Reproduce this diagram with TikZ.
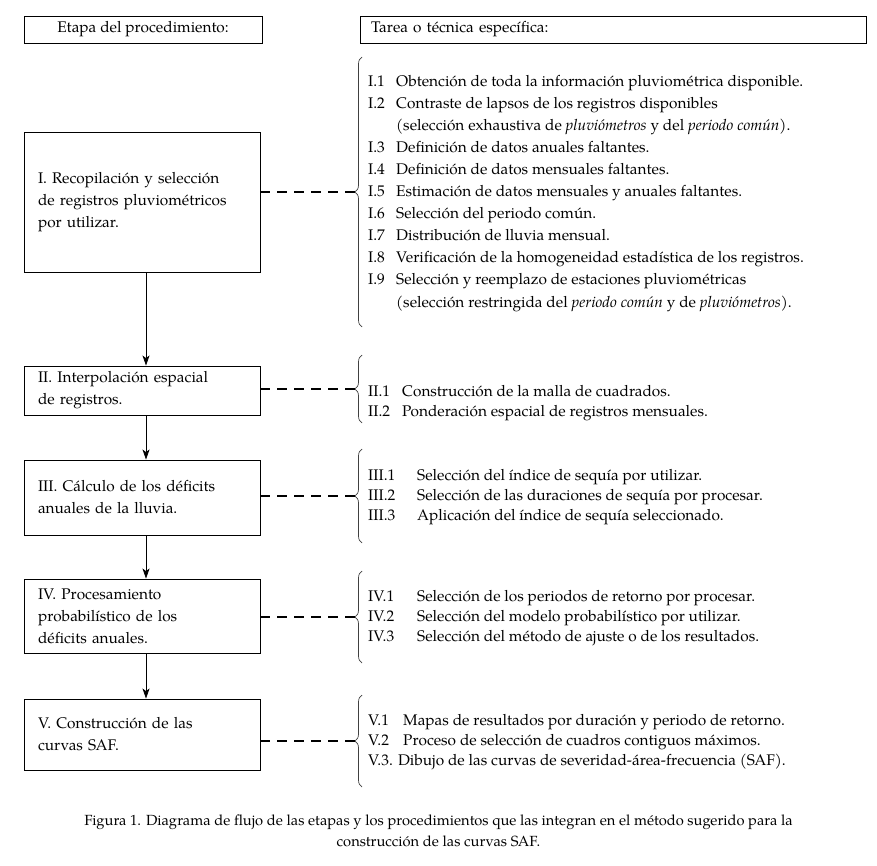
\documentclass[tikz,border=0pt]{standalone}
\usepackage{fontspec}
\setmainfont{TeX Gyre Pagella}
\usetikzlibrary{decorations.pathreplacing,arrows.meta,calc}
\newcommand\taskline[5]{%
  \node[rtext] (#1a) at (368,#2) {#3};
  \node[rtext] (#1b) at (#4,#2) {#5};}
\begin{document}
\begin{tikzpicture}[x=1pt,y=-1pt,
  font=\fontsize{15.4}{22}\selectfont,
  hbox/.style={draw, line width=0.9pt, minimum height=27pt, inner ysep=0pt},
  stage/.style={draw, line width=0.9pt, text width=208pt, align=left,
    inner xsep=14pt, inner ysep=0pt},
  rtext/.style={anchor=base west, inner sep=0pt},
  flow/.style={line width=0.8pt, -{Stealth[length=10pt,width=7pt,inset=2.5pt]}},
  link/.style={line width=2pt, dash pattern=on 10pt off 7pt},
  brc/.style={line width=0.7pt, color=black!75, decorate,
    decoration={brace, amplitude=7pt}}
]
\useasboundingbox (0,0) rectangle (877,866);

% headers
\node[hbox, minimum width=238pt] (h1) at (143,29.5) {Etapa del procedimiento:};
\node[hbox, text width=484pt, inner xsep=11pt, align=left] (h2) at (613,29.5) {Tarea o técnica específica:};

% stages
\node[stage, minimum height=140pt] (b1) at (142,202)
  {I. Recopilación y selección\\de registros pluviométricos\\por utilizar.};
\node[stage, minimum height=49pt] (b2) at (142,390.5)
  {II. Interpolación espacial\\de registros.};
\node[stage, minimum height=75pt] (b3) at (142,497.5)
  {III. Cálculo de los déficits\\anuales de la lluvia.};
\node[stage, minimum height=74pt] (b4) at (142,616)
  {IV. Procesamiento\\probabilístico de los\\déficits anuales.};
\node[stage, minimum height=71pt] (b5) at (142,734.5)
  {V. Construcción de las\\curvas SAF.};

% flow arrows
\foreach \a/\b in {b1/b2,b2/b3,b3/b4,b4/b5}
  \draw[flow] ($(\a.south)+(4,0)$) -- ($(\b.north)+(4,0)$);

% brace tips
\coordinate (t1) at (355,192);
\coordinate (t2) at (355,389);
\coordinate (t3) at (355,496);
\coordinate (t4) at (355,617);
\coordinate (t5) at (355,741);

% braces
\draw[brc] (362,327) -- (362,57);
\draw[brc] (362,423) -- (362,355);
\draw[brc] (362,543) -- (362,449);
\draw[brc] (362,663) -- (362,571);
\draw[brc] (362,787) -- (362,695);

% dashed links
\foreach \i in {1,...,5}
  \draw[link] (b\i.east |- t\i) -- (t\i);

% tasks I
\taskline{i1}{87}{I.1}{396}{Obtención de toda la información pluviométrica disponible.}
\taskline{i2}{109}{I.2}{396}{Contraste de lapsos de los registros disponibles}
\node[rtext] (i2c) at (396,131) {(selección exhaustiva de \textit{pluviómetros} y del \textit{periodo común}).};
\taskline{i3}{153}{I.3}{396}{Definición de datos anuales faltantes.}
\taskline{i4}{175}{I.4}{396}{Definición de datos mensuales faltantes.}
\taskline{i5}{197}{I.5}{396}{Estimación de datos mensuales y anuales faltantes.}
\taskline{i6}{219}{I.6}{396}{Selección del periodo común.}
\taskline{i7}{241}{I.7}{396}{Distribución de lluvia mensual.}
\taskline{i8}{263}{I.8}{396}{Verificación de la homogeneidad estadística de los registros.}
\taskline{i9}{285}{I.9}{396}{Selección y reemplazo de estaciones pluviométricas}
\node[rtext] (i9c) at (396,307) {(selección restringida del \textit{periodo común} y de \textit{pluviómetros}).};

% tasks II
\taskline{ii1}{396}{II.1}{402}{Construcción de la malla de cuadrados.}
\taskline{ii2}{416}{II.2}{402}{Ponderación espacial de registros mensuales.}

% tasks III
\taskline{iii1}{480.5}{III.1}{417}{Selección del índice de sequía por utilizar.}
\taskline{iii2}{500.5}{III.2}{417}{Selección de las duraciones de sequía por procesar.}
\taskline{iii3}{520.5}{III.3}{417}{Aplicación del índice de sequía seleccionado.}

% tasks IV
\taskline{iv1}{601.5}{IV.1}{417}{Selección de los periodos de retorno por procesar.}
\taskline{iv2}{621.5}{IV.2}{417}{Selección del modelo probabilístico por utilizar.}
\taskline{iv3}{641.5}{IV.3}{417}{Selección del método de ajuste o de los resultados.}

% tasks V
\taskline{v1}{725.5}{V.1}{403}{Mapas de resultados por duración y periodo de retorno.}
\taskline{v2}{745.5}{V.2}{403}{Proceso de selección de cuadros contiguos máximos.}
\node[rtext] (v3) at (368,765.5) {V.3. Dibujo de las curvas de severidad-área-frecuencia (SAF).};

% caption
\node[align=center, inner sep=0pt, font=\fontsize{14.7}{21}\selectfont] (cap) at (438.5,830.5)
  {Figura 1. Diagrama de flujo de las etapas y los procedimientos que las integran en el método sugerido para la\\construcción de las curvas SAF.};
\end{tikzpicture}
\end{document}
